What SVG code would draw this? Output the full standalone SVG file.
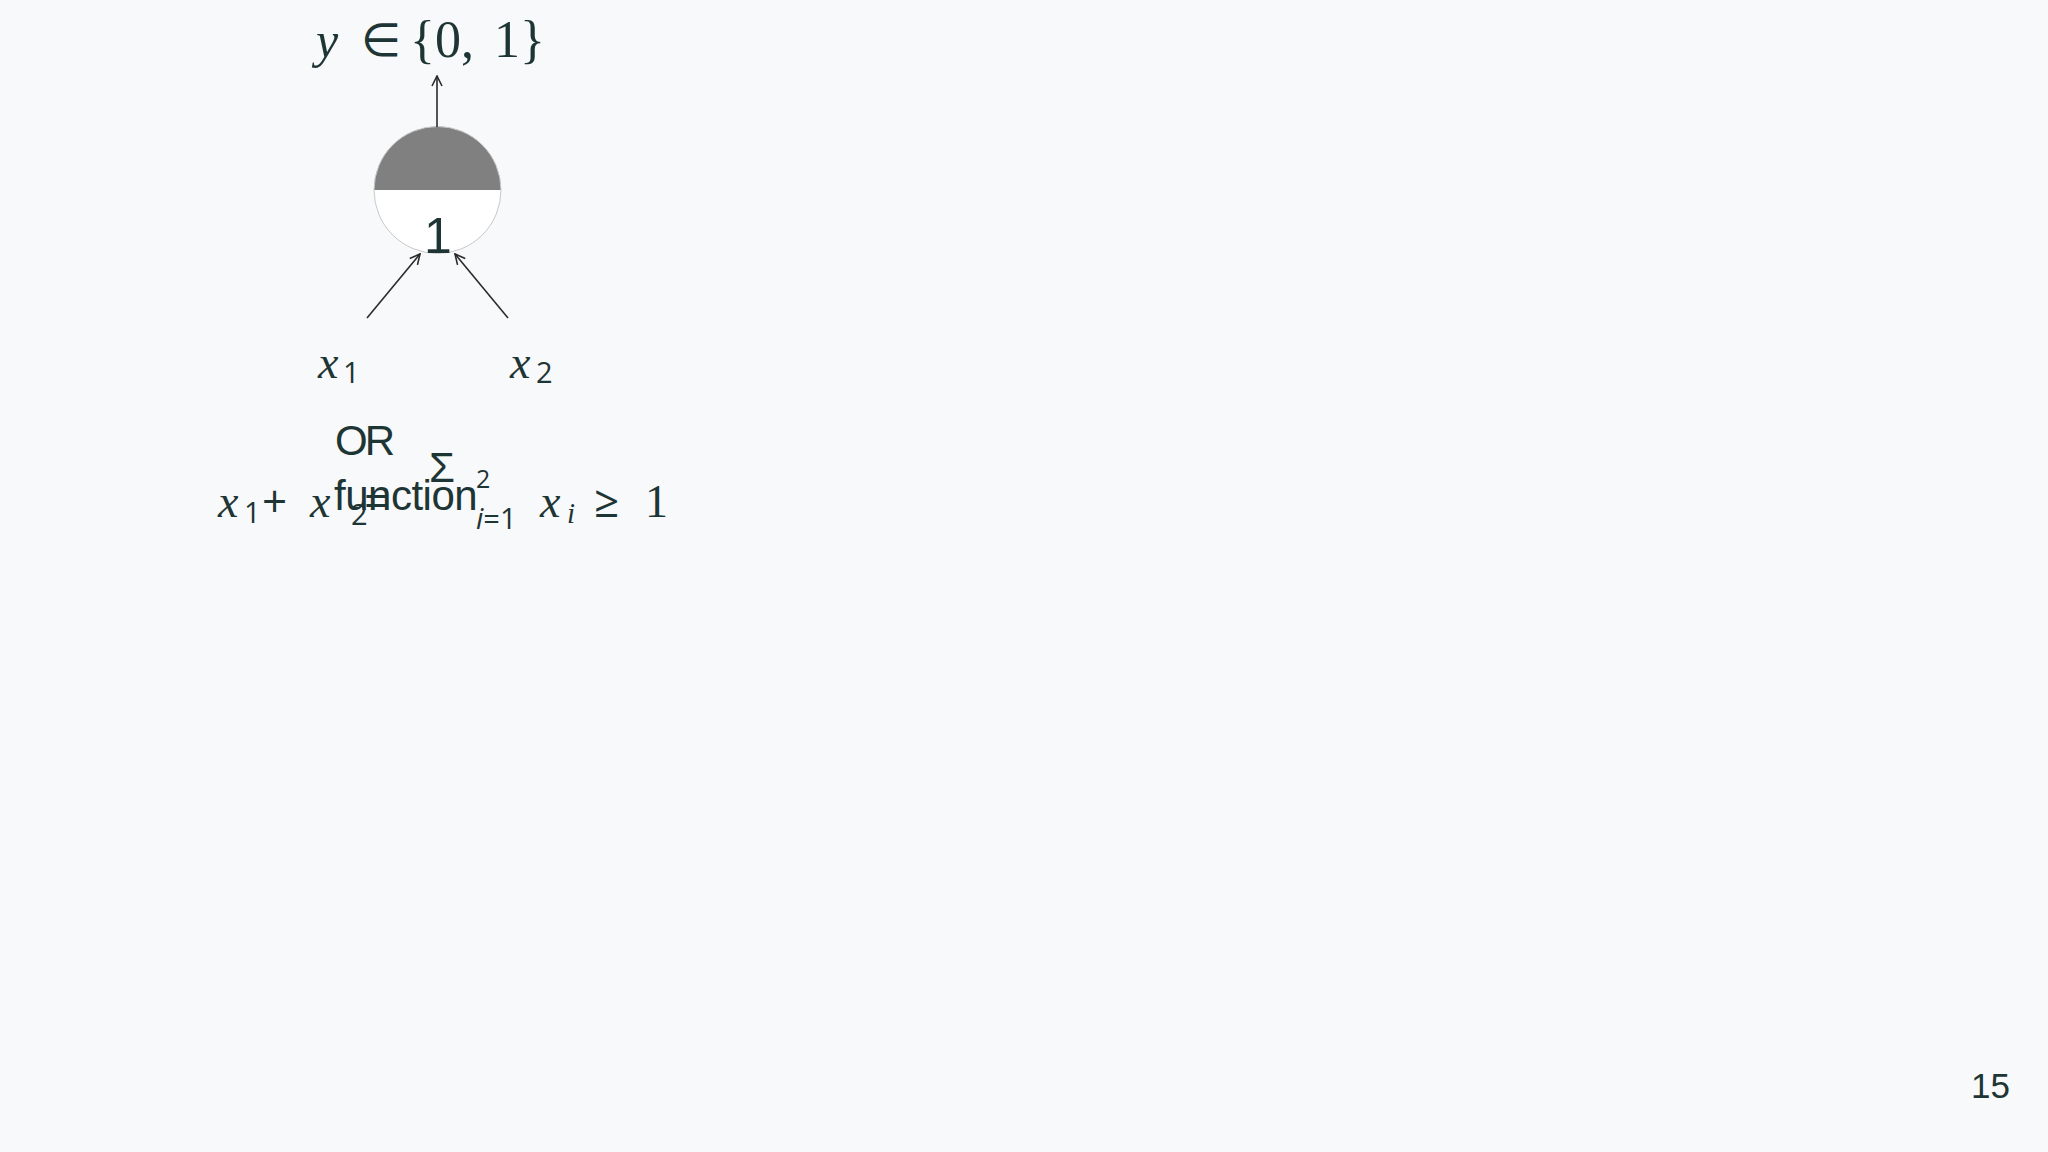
<svg xmlns="http://www.w3.org/2000/svg" width="2048" height="1152" viewBox="0 0 2048 1152">
<style>
.m{font-family:"Liberation Serif","DejaVu Serif",serif;fill:#1e3535}
.mi{font-family:"Liberation Serif","DejaVu Serif",serif;font-style:italic;fill:#1e3535}
.s{font-family:"Open Sans","Liberation Sans",sans-serif;fill:#1e3535}
.t{font-family:"Liberation Sans",Arial,sans-serif;fill:#1e3535}
.c{stroke:#2b2b2b;stroke-width:1.6;fill:none}
</style>
<defs>
<marker id="ah" viewBox="0 0 12 12" refX="11" refY="6" markerWidth="12" markerHeight="12" markerUnits="userSpaceOnUse" orient="auto">
<path d="M1,1 L11,6 L1,11" fill="none" stroke="#2b2b2b" stroke-width="1.6"/>
</marker>
</defs>
<rect width="2048" height="1152" fill="#f8f9fa"/>
<g id="output-label">
<text class="mi" x="316" y="57" font-size="50">y</text>
<text class="s" x="361" y="56" font-size="46">∈</text>
<text class="m" x="410" y="57" font-size="52">{0,</text>
<text class="m" x="494" y="57" font-size="52">1}</text>
</g>
<g id="neuron">
<path d="M374,190 A63.5,63.5 0 0 1 501,190 Z" fill="#808080"/>
<path d="M374,190 A63.5,63.5 0 0 0 501,190 Z" fill="#ffffff"/>
<circle cx="437.5" cy="190" r="63.5" fill="none" stroke="#c8c8c8" stroke-width="1"/>
<text class="t" x="438" y="253" font-size="50" text-anchor="middle">1</text>
</g>
<g id="input-x1">
<text class="mi" x="318" y="378" font-size="46">x</text>
<text class="s" x="343" y="383" font-size="29">1</text>
</g>
<g id="input-x2">
<text class="mi" x="510" y="378" font-size="46">x</text>
<text class="s" x="536" y="383" font-size="29">2</text>
</g>
<g id="caption">
<text class="t" x="335" y="455" font-size="42" letter-spacing="-3">OR</text>
<text class="t" x="334" y="510" font-size="42" letter-spacing="-0.5">function</text>
</g>
<g id="formula">
<text class="mi" x="218" y="517" font-size="46">x</text>
<text class="s" x="244" y="523" font-size="29">1</text>
<text class="s" x="262" y="517" font-size="44">+</text>
<text class="mi" x="310" y="517" font-size="46">x</text>
<text class="s" x="351" y="525" font-size="29">2</text>
<text class="s" x="364" y="517" font-size="44">=</text>
<text class="t" x="429" y="482" font-size="42">Σ</text>
<text class="s" x="476" y="488" font-size="25">2</text>
<text class="s" x="476" y="529" font-size="29"><tspan font-style="italic">i</tspan>=1</text>
<text class="mi" x="540" y="517" font-size="46">x</text>
<text class="mi" x="567" y="523" font-size="29">i</text>
<text class="s" x="594" y="517" font-size="44">≥</text>
<text class="m" x="645" y="517" font-size="46">1</text>
</g>
<g id="connectors">
<line class="c" x1="437" y1="127" x2="437" y2="76" marker-end="url(#ah)"/>
<line class="c" x1="367" y1="318" x2="420" y2="254" marker-end="url(#ah)"/>
<line class="c" x1="508" y1="318" x2="455" y2="254" marker-end="url(#ah)"/>
</g>
<text class="t" x="1971" y="1098" font-size="35">15</text>
</svg>
